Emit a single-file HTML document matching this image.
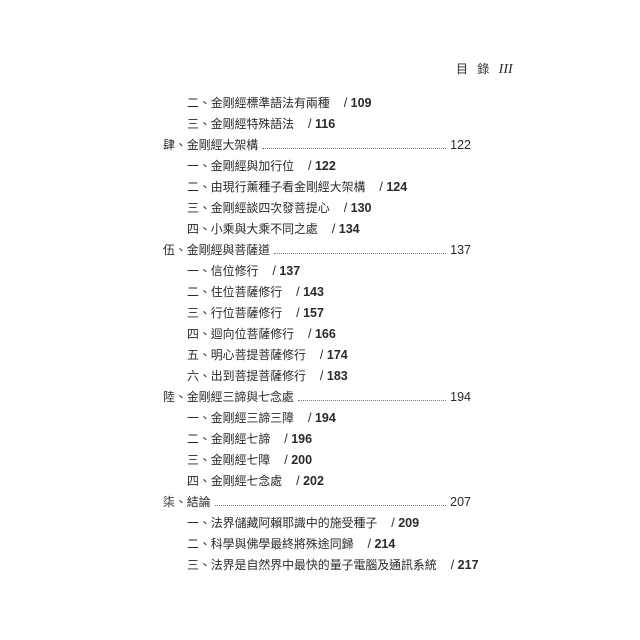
<!DOCTYPE html>
<html><head><meta charset="utf-8"><style>
body{margin:0;background:#fff;}
.p{position:relative;width:640px;height:640px;font-family:"Liberation Sans","Noto Sans CJK TC",sans-serif;color:#2a2a2a;font-size:11.9px;}
.l{position:absolute;height:20px;line-height:20px;white-space:nowrap;}
.m{left:163px;width:308px;display:flex;}
.m .d{flex:1;border-bottom:1.5px dotted #777;height:13px;margin:0 4px;}
.m .n{font-size:12.5px;}
.s{left:187px;}
.s b{margin-left:14px;font-size:12.5px;font-weight:normal;}
.s b i{font-style:normal;font-weight:bold;}
.h{position:absolute;left:456px;top:60px;font-size:12px;letter-spacing:3px;}
.h i{font-family:"Liberation Serif",serif;font-size:14px;letter-spacing:0;}
</style></head><body><div class="p">
<div class="h">目 錄 <i>III</i></div>
<div class="l s" style="top:93px">二、金剛經標準語法有兩種<b>/ <i>109</i></b></div>
<div class="l s" style="top:114px">三、金剛經特殊語法<b>/ <i>116</i></b></div>
<div class="l m" style="top:135px"><span>肆、金剛經大架構</span><span class="d"></span><span class="n">122</span></div>
<div class="l s" style="top:156px">一、金剛經與加行位<b>/ <i>122</i></b></div>
<div class="l s" style="top:177px">二、由現行薰種子看金剛經大架構<b>/ <i>124</i></b></div>
<div class="l s" style="top:198px">三、金剛經談四次發菩提心<b>/ <i>130</i></b></div>
<div class="l s" style="top:219px">四、小乘與大乘不同之處<b>/ <i>134</i></b></div>
<div class="l m" style="top:240px"><span>伍、金剛經與菩薩道</span><span class="d"></span><span class="n">137</span></div>
<div class="l s" style="top:261px">一、信位修行<b>/ <i>137</i></b></div>
<div class="l s" style="top:282px">二、住位菩薩修行<b>/ <i>143</i></b></div>
<div class="l s" style="top:303px">三、行位菩薩修行<b>/ <i>157</i></b></div>
<div class="l s" style="top:324px">四、迴向位菩薩修行<b>/ <i>166</i></b></div>
<div class="l s" style="top:345px">五、明心菩提菩薩修行<b>/ <i>174</i></b></div>
<div class="l s" style="top:366px">六、出到菩提菩薩修行<b>/ <i>183</i></b></div>
<div class="l m" style="top:387px"><span>陸、金剛經三諦與七念處</span><span class="d"></span><span class="n">194</span></div>
<div class="l s" style="top:408px">一、金剛經三諦三障<b>/ <i>194</i></b></div>
<div class="l s" style="top:429px">二、金剛經七諦<b>/ <i>196</i></b></div>
<div class="l s" style="top:450px">三、金剛經七障<b>/ <i>200</i></b></div>
<div class="l s" style="top:471px">四、金剛經七念處<b>/ <i>202</i></b></div>
<div class="l m" style="top:492px"><span>柒、結論</span><span class="d"></span><span class="n">207</span></div>
<div class="l s" style="top:513px">一、法界儲藏阿賴耶識中的施受種子<b>/ <i>209</i></b></div>
<div class="l s" style="top:534px">二、科學與佛學最終將殊途同歸<b>/ <i>214</i></b></div>
<div class="l s" style="top:555px">三、法界是自然界中最快的量子電腦及通訊系統<b>/ <i>217</i></b></div>
</div></body></html>
